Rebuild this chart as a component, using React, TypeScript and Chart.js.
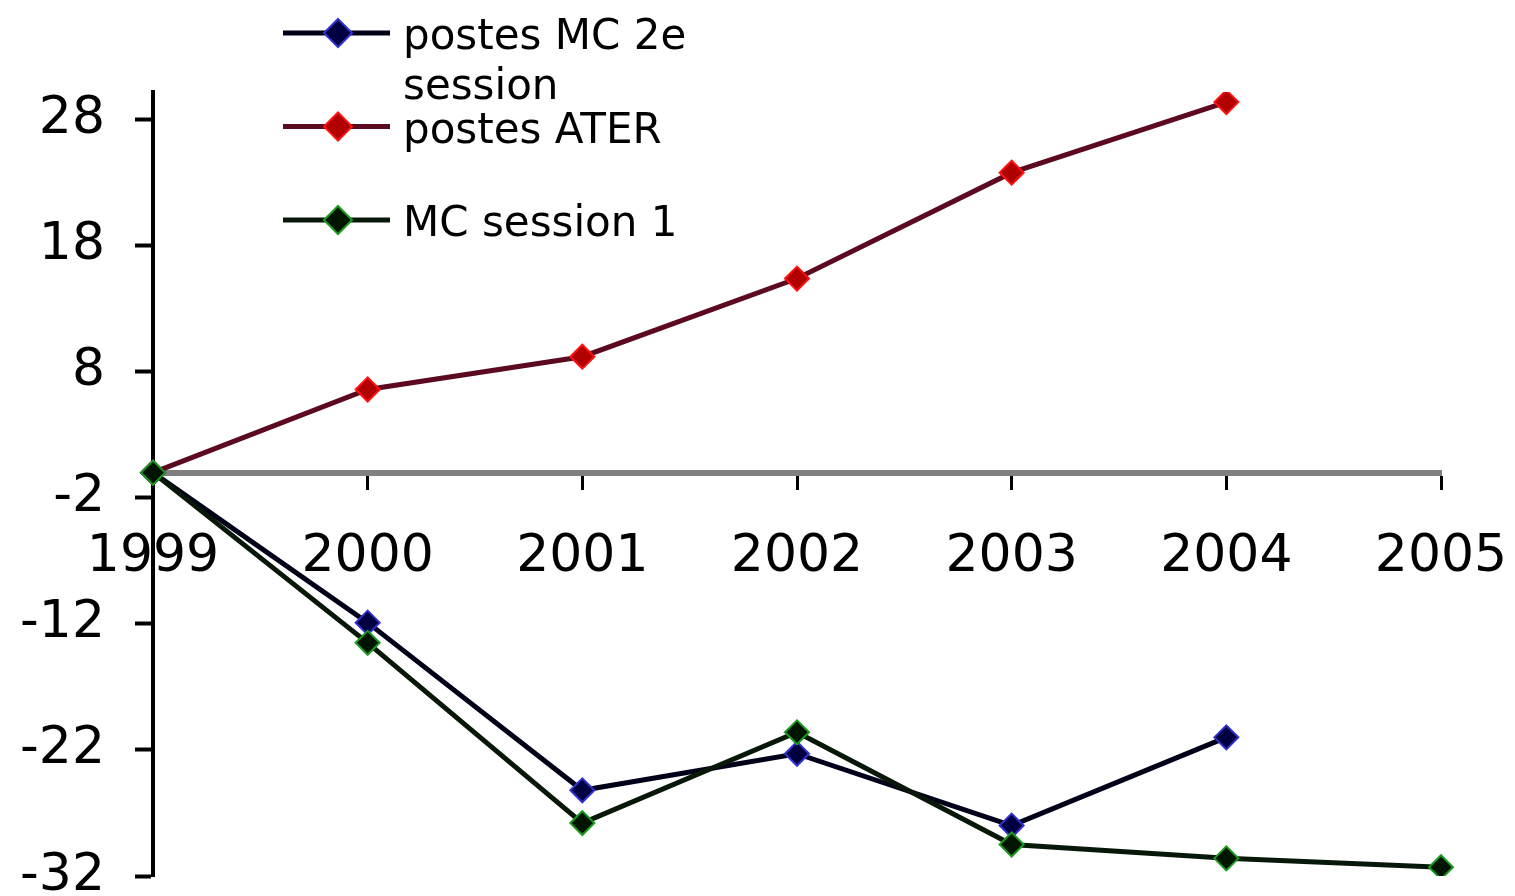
import React, { useEffect, useRef } from "react";
import { Chart, registerables } from "chart.js";

Chart.register(...registerables);

const years = ["1999", "2000", "2001", "2002", "2003", "2004", "2005"];
const seriesLabels = ["postes MC 2e session", "postes ATER", "MC session 1"];
const mc2eSession = [0, -11.9, -25.2, -22.3, -28.0, -21.0, null];
const postesAter = [0, 6.6, 9.2, 15.4, 23.8, 29.4, null];
const mcSession1 = [0, -13.5, -27.8, -20.6, -29.5, -30.6, -31.3];
const yTickValues = [-32, -22, -12, -2, 8, 18, 28];

const FONT = "'DejaVu Sans', 'Liberation Sans', sans-serif";

const legendPlugin = {
  id: "excelLegend",
  afterDraw(chart: any) {
    const ctx = chart.ctx;
    ctx.save();
    const x0 = 283;
    const x1 = 390;
    const cx = 338;
    const tx = 403;
    ctx.font = `42px ${FONT}`;
    chart.data.datasets.forEach((ds: any, i: number) => {
      const y = 33 + i * 93.5;
      ctx.strokeStyle = ds.borderColor;
      ctx.lineWidth = 5;
      ctx.beginPath();
      ctx.moveTo(x0, y);
      ctx.lineTo(x1, y);
      ctx.stroke();
      const r = 14;
      ctx.beginPath();
      ctx.moveTo(cx, y - r);
      ctx.lineTo(cx + r, y);
      ctx.lineTo(cx, y + r);
      ctx.lineTo(cx - r, y);
      ctx.closePath();
      ctx.fillStyle = ds.pointBackgroundColor;
      ctx.fill();
      ctx.strokeStyle = ds.pointBorderColor;
      ctx.lineWidth = 2;
      ctx.stroke();
      const words = String(ds.label).split(" ");
      const lines: string[] = [];
      let cur = "";
      words.forEach((w) => {
        const test = cur ? cur + " " + w : w;
        if (ctx.measureText(test).width > 300 && cur) {
          lines.push(cur);
          cur = w;
        } else {
          cur = test;
        }
      });
      if (cur) lines.push(cur);
      ctx.fillStyle = "#000";
      ctx.textAlign = "left";
      ctx.textBaseline = "alphabetic";
      lines.forEach((ln, j) => ctx.fillText(ln, tx, y + 16 + j * 50));
    });
    ctx.restore();
  },
};

export default function App() {
  const canvasRef = useRef<HTMLCanvasElement | null>(null);

  useEffect(() => {
    document.body.style.margin = "0";
    const canvas = canvasRef.current;
    if (!canvas) return;
    const chart = new Chart(canvas, {
      type: "line",
      data: {
        labels: years,
        datasets: [
          {
            label: seriesLabels[0],
            data: mc2eSession,
            borderColor: "#000018",
            borderWidth: 5,
            pointStyle: "rectRot",
            pointRadius: 12,
            pointBackgroundColor: "#000040",
            pointBorderColor: "#3030d0",
            pointBorderWidth: 2,
            tension: 0,
            order: 1,
          },
          {
            label: seriesLabels[1],
            data: postesAter,
            borderColor: "#5c0a20",
            borderWidth: 5,
            pointStyle: "rectRot",
            pointRadius: 12,
            pointBackgroundColor: "#b00000",
            pointBorderColor: "#ff1010",
            pointBorderWidth: 2,
            tension: 0,
            order: 2,
          },
          {
            label: seriesLabels[2],
            data: mcSession1,
            borderColor: "#081808",
            borderWidth: 5,
            pointStyle: "rectRot",
            pointRadius: 12,
            pointBackgroundColor: "#001400",
            pointBorderColor: "#1a9a1a",
            pointBorderWidth: 2,
            tension: 0,
            order: 0,
          },
        ],
      },
      options: {
        animation: false,
        responsive: true,
        maintainAspectRatio: false,
        layout: { padding: { top: 92, bottom: 20, left: 0, right: 74 } },
        plugins: {
          legend: { display: false },
          tooltip: { enabled: false },
        },
        scales: {
          x: {
            type: "category",
            offset: false,
            position: { y: 0 } as any,
            afterFit: (scale: any) => {
              scale.height = 0;
              scale.paddingLeft = 0;
              scale.paddingRight = 0;
              scale.paddingTop = 0;
              scale.paddingBottom = 0;
            },
            border: { display: true, color: "#808080", width: 6 },
            grid: {
              display: true,
              drawOnChartArea: false,
              drawTicks: true,
              tickLength: 14,
              tickWidth: 3,
              tickColor: "#000",
            },
            ticks: {
              color: "#000",
              font: { family: FONT, size: 52 },
              padding: 40,
              maxRotation: 0,
              autoSkip: false,
            },
          },
          y: {
            type: "linear",
            position: "left",
            min: -32,
            max: 30.2,
            afterBuildTicks: (scale: any) => {
              scale.ticks = yTickValues.map((v) => ({ value: v }));
            },
            afterFit: (scale: any) => {
              scale.width = 153;
              scale.paddingTop = 0;
              scale.paddingBottom = 0;
              scale.paddingLeft = 0;
              scale.paddingRight = 0;
            },
            border: { display: true, color: "#000", width: 4 },
            grid: {
              display: true,
              drawOnChartArea: false,
              drawTicks: true,
              tickLength: 18,
              tickWidth: 4,
              tickColor: "#000",
            },
            ticks: {
              color: "#000",
              font: { family: FONT, size: 52 },
              padding: 30,
            },
          },
        },
      },
      plugins: [legendPlugin],
    });
    return () => chart.destroy();
  }, []);

  return (
    <div style={{ width: 1515, height: 896, position: "relative" }}>
      <canvas ref={canvasRef} />
    </div>
  );
}
